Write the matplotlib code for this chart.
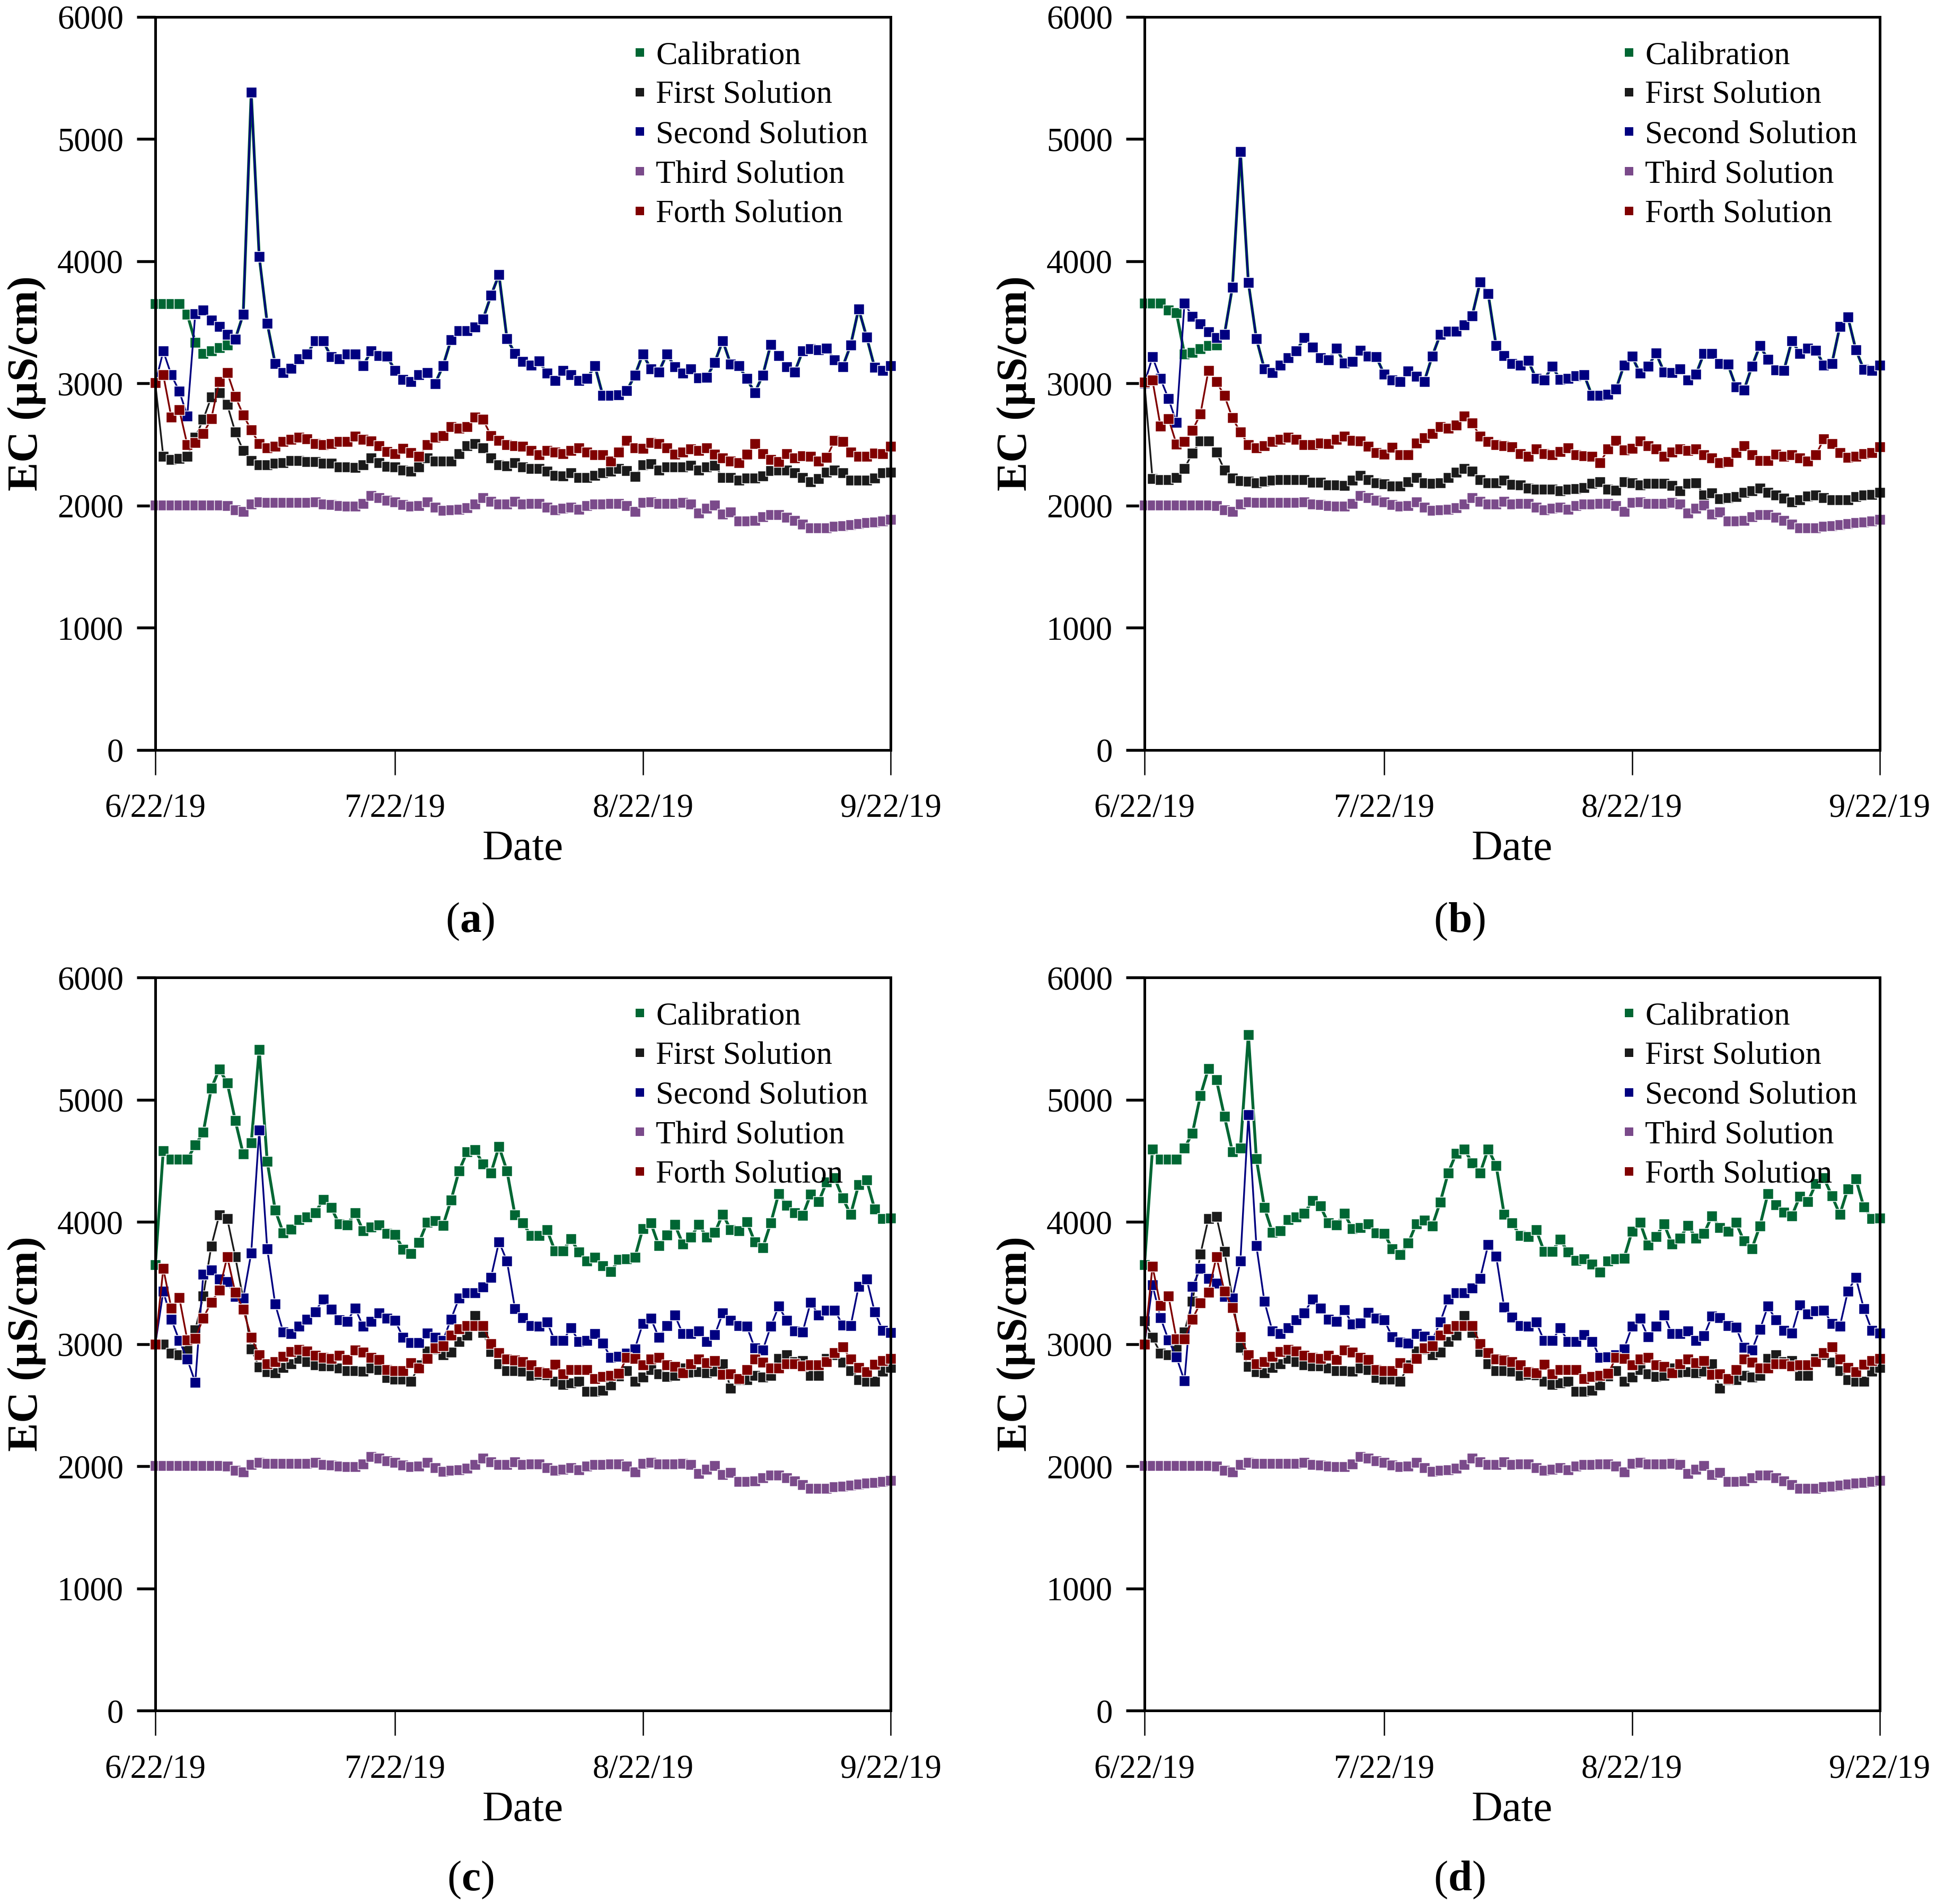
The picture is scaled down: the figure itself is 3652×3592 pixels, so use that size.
import pandas as pd
import matplotlib
matplotlib.use('Agg')
import matplotlib.pyplot as plt
from matplotlib.lines import Line2D

# daily readings, 6/22/19 .. 9/22/19
dates = pd.date_range('2019-06-22', '2019-09-22', freq='D')
tick_dates = pd.to_datetime(['2019-06-22', '2019-07-22', '2019-08-22', '2019-09-22'])
tick_labels = ['6/22/19', '7/22/19', '8/22/19', '9/22/19']
series_names = ['Calibration', 'First Solution', 'Second Solution', 'Third Solution', 'Forth Solution']
colors = ['#006633', '#1a1a1a', '#000080', '#7a4a8a', '#800000']
panel_labels = ['a', 'b', 'c', 'd']

# third solution is the same in all four panels
third = [2005, 2005, 2005, 2005, 2005, 2005, 2005, 2005, 2005, 2000, 1964, 1951, 2012, 2029, 2024, 2024,
         2024, 2024, 2024, 2024, 2029, 2012, 2007, 2000, 1995, 1995, 2019, 2080, 2066, 2044, 2029, 2007,
         1995, 2000, 2029, 1988, 1959, 1964, 1971, 1981, 2012, 2066, 2036, 2012, 2012, 2036, 2012, 2019,
         2019, 1988, 1964, 1976, 1988, 1968, 2000, 2012, 2012, 2019, 2019, 2000, 1951, 2024, 2029, 2019,
         2019, 2019, 2024, 2012, 1939, 1976, 2005, 1930, 1949, 1873, 1873, 1878, 1907, 1927, 1927, 1903,
         1878, 1849, 1818, 1818, 1818, 1830, 1835, 1842, 1854, 1861, 1866, 1873, 1885]

# ---- panel (a)
second_a = [3000, 3265, 3070, 2937, 2735, 3572, 3600, 3516, 3465, 3399, 3362, 3567, 5382, 4039, 3494, 3161,
            3088, 3124, 3200, 3241, 3348, 3348, 3217, 3200, 3241, 3241, 3144, 3265, 3229, 3221, 3107, 3034,
            3015, 3070, 3088, 2998, 3144, 3358, 3431, 3431, 3460, 3526, 3720, 3890, 3367, 3246, 3180, 3148,
            3185, 3083, 3022, 3107, 3070, 3022, 3039, 3144, 2900, 2900, 2905, 2942, 3066, 3241, 3119, 3095,
            3241, 3136, 3083, 3119, 3046, 3051, 3173, 3350, 3156, 3144, 3039, 2925, 3066, 3319, 3229, 3136,
            3095, 3265, 3282, 3277, 3290, 3192, 3136, 3314, 3611, 3380, 3131, 3107, 3144]
calib_a_start = [3652, 3652, 3652, 3652, 3567, 3338, 3245, 3265, 3294, 3314]
first_a = [3000, 2401, 2377, 2384, 2401, 2560, 2706, 2888, 2925, 2827, 2603, 2450, 2370, 2333, 2333, 2345,
           2353, 2370, 2370, 2360, 2360, 2348, 2345, 2316, 2316, 2311, 2333, 2389, 2353, 2321, 2316, 2292,
           2280, 2316, 2389, 2365, 2365, 2365, 2426, 2491, 2506, 2474, 2389, 2333, 2323, 2353, 2316, 2304,
           2304, 2280, 2248, 2243, 2268, 2231, 2231, 2248, 2268, 2280, 2304, 2287, 2238, 2333, 2341, 2292,
           2316, 2316, 2316, 2328, 2292, 2316, 2328, 2231, 2231, 2207, 2224, 2224, 2243, 2287, 2292, 2292,
           2268, 2231, 2195, 2219, 2273, 2292, 2268, 2207, 2207, 2207, 2224, 2268, 2273]
forth_a = [3005, 3070, 2725, 2786, 2499, 2516, 2591, 2710, 3017, 3090, 2895, 2742, 2620, 2506, 2474, 2487,
           2523, 2540, 2560, 2547, 2506, 2499, 2506, 2523, 2523, 2567, 2543, 2528, 2491, 2443, 2426, 2467,
           2433, 2401, 2499, 2560, 2572, 2645, 2633, 2645, 2725, 2706, 2572, 2535, 2499, 2491, 2487, 2450,
           2414, 2450, 2438, 2426, 2450, 2474, 2438, 2414, 2414, 2365, 2438, 2535, 2474, 2467, 2516, 2506,
           2474, 2421, 2438, 2462, 2450, 2474, 2421, 2389, 2365, 2353, 2421, 2506, 2426, 2377, 2360, 2426,
           2389, 2409, 2401, 2365, 2394, 2535, 2523, 2438, 2401, 2401, 2431, 2426, 2487]

# ---- panel (b)
second_b = [3000, 3217, 3039, 2876, 2681, 3655, 3550, 3489, 3423, 3375, 3399, 3788, 4900, 3825, 3367, 3119,
            3090, 3148, 3209, 3265, 3375, 3297, 3209, 3192, 3290, 3168, 3180, 3270, 3221, 3217, 3075, 3027,
            3015, 3100, 3058, 3015, 3224, 3399, 3428, 3428, 3479, 3555, 3830, 3735, 3309, 3229, 3163, 3151,
            3187, 3041, 3029, 3139, 3034, 3041, 3063, 3071, 2900, 2900, 2912, 2954, 3151, 3221, 3083, 3139,
            3248, 3095, 3090, 3119, 3027, 3075, 3246, 3246, 3161, 3156, 2973, 2944, 3139, 3309, 3197, 3112,
            3107, 3350, 3246, 3290, 3273, 3151, 3161, 3465, 3545, 3277, 3114, 3107, 3151]
calib_b_start = [3655, 3655, 3655, 3601, 3577, 3241, 3253, 3282, 3309, 3314]
first_b = [3000, 2219, 2212, 2212, 2231, 2304, 2431, 2528, 2528, 2438, 2292, 2224, 2202, 2200, 2187, 2200,
           2207, 2214, 2212, 2212, 2212, 2190, 2190, 2170, 2170, 2165, 2207, 2248, 2212, 2187, 2178, 2158,
           2158, 2195, 2231, 2187, 2183, 2187, 2231, 2273, 2304, 2280, 2214, 2187, 2187, 2207, 2175, 2170,
           2141, 2134, 2134, 2134, 2122, 2134, 2139, 2146, 2183, 2195, 2134, 2127, 2195, 2187, 2170, 2183,
           2183, 2183, 2165, 2122, 2183, 2187, 2085, 2102, 2056, 2066, 2073, 2110, 2122, 2141, 2110, 2085,
           2061, 2029, 2049, 2078, 2085, 2066, 2049, 2049, 2049, 2073, 2085, 2090, 2110]
forth_b = [3010, 3027, 2650, 2713, 2504, 2523, 2616, 2749, 3107, 3015, 2900, 2718, 2601, 2499, 2474, 2491,
           2523, 2543, 2560, 2540, 2499, 2499, 2511, 2506, 2540, 2567, 2535, 2530, 2487, 2433, 2421, 2477,
           2414, 2414, 2511, 2555, 2589, 2645, 2633, 2657, 2735, 2676, 2567, 2523, 2499, 2491, 2482, 2426,
           2401, 2462, 2426, 2414, 2443, 2474, 2414, 2409, 2401, 2353, 2462, 2535, 2457, 2470, 2528, 2491,
           2462, 2401, 2438, 2462, 2450, 2462, 2414, 2389, 2353, 2358, 2433, 2491, 2414, 2370, 2370, 2421,
           2401, 2414, 2389, 2365, 2414, 2547, 2506, 2433, 2394, 2401, 2426, 2433, 2482]

# ---- panel (c)
calib_c = [3647, 4584, 4511, 4511, 4511, 4628, 4732, 5092, 5248, 5139, 4830, 4555, 4645, 5411, 4494, 4097,
           3910, 3939, 4019, 4039, 4073, 4182, 4117, 3983, 3976, 4075, 3927, 3959, 3976, 3903, 3898, 3776,
           3740, 3832, 3995, 4007, 3971, 4178, 4416, 4572, 4591, 4474, 4401, 4616, 4418, 4056, 3990, 3886,
           3886, 3934, 3764, 3764, 3861, 3752, 3679, 3708, 3642, 3594, 3691, 3698, 3708, 3946, 3990, 3805,
           3893, 3978, 3820, 3873, 3978, 3873, 3912, 4063, 3934, 3927, 4002, 3837, 3788, 3990, 4231, 4136,
           4073, 4051, 4226, 4165, 4328, 4360, 4194, 4061, 4304, 4343, 4105, 4027, 4032]
first_c = [3000, 2998, 2925, 2912, 2961, 3114, 3394, 3800, 4056, 4027, 3715, 3367, 2961, 2810, 2774, 2766,
           2808, 2839, 2881, 2856, 2827, 2820, 2820, 2803, 2783, 2783, 2779, 2803, 2791, 2725, 2710, 2710,
           2693, 2830, 2942, 2961, 2912, 2932, 3022, 3071, 3234, 3095, 2937, 2839, 2783, 2783, 2779, 2742,
           2750, 2745, 2693, 2669, 2681, 2693, 2613, 2613, 2620, 2662, 2740, 2783, 2693, 2730, 2790, 2754,
           2735, 2742, 2803, 2770, 2771, 2766, 2776, 2839, 2640, 2706, 2706, 2742, 2730, 2742, 2881, 2912,
           2856, 2864, 2742, 2742, 2881, 2912, 2850, 2783, 2706, 2693, 2693, 2779, 2808]
second_c = [3000, 3431, 3204, 3029, 2876, 2686, 3569, 3606, 3533, 3509, 3387, 3375, 3745, 4749, 3781, 3326,
            3100, 3083, 3144, 3204, 3265, 3367, 3285, 3197, 3185, 3294, 3144, 3185, 3253, 3209, 3192, 3054,
            3010, 3010, 3088, 3054, 3030, 3204, 3375, 3418, 3418, 3465, 3545, 3837, 3679, 3290, 3217, 3151,
            3144, 3180, 3027, 3027, 3131, 3022, 3027, 3083, 3005, 2888, 2900, 2925, 2961, 3168, 3209, 3054,
            3151, 3236, 3083, 3083, 3107, 3022, 3075, 3253, 3192, 3148, 3144, 2968, 2949, 3144, 3309, 3192,
            3107, 3100, 3343, 3236, 3277, 3277, 3156, 3148, 3472, 3533, 3265, 3112, 3095]
forth_c = [2998, 3618, 3294, 3380, 3034, 3046, 3212, 3343, 3440, 3715, 3423, 3285, 3054, 2912, 2839, 2856,
           2900, 2937, 2956, 2944, 2905, 2888, 2881, 2905, 2871, 2949, 2932, 2888, 2871, 2791, 2783, 2783,
           2847, 2803, 2881, 2968, 2985, 3071, 3124, 3148, 3151, 3148, 3002, 2929, 2876, 2869, 2856, 2827,
           2774, 2766, 2832, 2754, 2791, 2791, 2791, 2718, 2735, 2742, 2759, 2888, 2881, 2827, 2876, 2888,
           2827, 2815, 2766, 2839, 2876, 2847, 2864, 2749, 2754, 2718, 2791, 2876, 2852, 2803, 2803, 2839,
           2839, 2820, 2827, 2827, 2856, 2929, 2978, 2876, 2808, 2771, 2832, 2864, 2881]

# ---- panel (d)
calib_d = [3647, 4596, 4511, 4511, 4511, 4603, 4727, 5034, 5255, 5163, 4864, 4574, 4603, 5533, 4516, 4117,
           3915, 3927, 4019, 4039, 4068, 4173, 4129, 3990, 3976, 4068, 3946, 3951, 3983, 3910, 3903, 3781,
           3732, 3825, 3983, 4012, 3966, 4161, 4401, 4560, 4596, 4482, 4401, 4596, 4462, 4063, 3990, 3886,
           3881, 3934, 3759, 3759, 3856, 3752, 3684, 3698, 3655, 3589, 3679, 3696, 3703, 3922, 3995, 3808,
           3881, 3983, 3820, 3866, 3971, 3866, 3903, 4049, 3954, 3922, 3995, 3844, 3781, 3966, 4231, 4141,
           4080, 4049, 4209, 4165, 4311, 4360, 4214, 4061, 4270, 4353, 4122, 4027, 4032]
first_d = [3190, 3054, 2925, 2912, 2961, 3100, 3350, 3735, 4027, 4044, 3757, 3375, 2973, 2815, 2774, 2766,
           2808, 2839, 2881, 2856, 2827, 2820, 2820, 2803, 2783, 2783, 2779, 2803, 2791, 2725, 2710, 2710,
           2693, 2830, 2942, 2961, 2912, 2932, 3022, 3071, 3234, 3095, 2937, 2839, 2783, 2783, 2779, 2742,
           2750, 2745, 2693, 2669, 2681, 2693, 2613, 2613, 2620, 2662, 2740, 2783, 2693, 2730, 2790, 2754,
           2735, 2742, 2803, 2770, 2771, 2766, 2776, 2839, 2640, 2706, 2706, 2742, 2730, 2742, 2881, 2912,
           2856, 2864, 2742, 2742, 2881, 2912, 2850, 2783, 2706, 2693, 2693, 2779, 2808]
second_d = [3000, 3484, 3216, 3034, 2893, 2698, 3472, 3618, 3538, 3496, 3390, 3375, 3679, 4878, 3805, 3350,
            3107, 3083, 3131, 3197, 3253, 3367, 3294, 3204, 3185, 3282, 3161, 3173, 3260, 3209, 3197, 3058,
            3017, 3005, 3083, 3063, 3030, 3180, 3367, 3418, 3418, 3460, 3538, 3813, 3720, 3302, 3221, 3151,
            3144, 3180, 3027, 3027, 3131, 3022, 3022, 3075, 3022, 2888, 2893, 2912, 2961, 3144, 3212, 3058,
            3144, 3236, 3083, 3083, 3107, 3027, 3066, 3229, 3217, 3148, 3139, 2973, 2949, 3119, 3309, 3197,
            3112, 3090, 3319, 3246, 3273, 3277, 3168, 3144, 3431, 3545, 3290, 3112, 3090]
forth_d = [2998, 3637, 3314, 3394, 3041, 3041, 3204, 3338, 3423, 3715, 3431, 3297, 3058, 2912, 2839, 2856,
           2900, 2937, 2956, 2944, 2905, 2888, 2881, 2905, 2871, 2949, 2932, 2888, 2871, 2791, 2783, 2783,
           2847, 2803, 2881, 2968, 2985, 3071, 3124, 3148, 3151, 3148, 3002, 2929, 2876, 2869, 2856, 2827,
           2774, 2766, 2832, 2754, 2791, 2791, 2791, 2718, 2735, 2742, 2759, 2888, 2881, 2827, 2876, 2888,
           2827, 2815, 2766, 2839, 2876, 2847, 2864, 2749, 2754, 2718, 2791, 2876, 2852, 2803, 2803, 2839,
           2839, 2820, 2827, 2827, 2856, 2929, 2978, 2876, 2808, 2771, 2832, 2864, 2881]

# in (a) and (b) the calibration run sits under the second solution from day 10 on
calib_a = calib_a_start + second_a[10:]
calib_b = calib_b_start + second_b[10:]

panels = [
    [calib_a, first_a, second_a, third, forth_a],
    [calib_b, first_b, second_b, third, forth_b],
    [calib_c, first_c, second_c, third, forth_c],
    [calib_d, first_d, second_d, third, forth_d],
]

plt.rcParams['font.family'] = ['Liberation Serif', 'DejaVu Serif']
plt.rcParams['mathtext.fontset'] = 'custom'
plt.rcParams['mathtext.rm'] = 'Liberation Serif'
plt.rcParams['mathtext.bf'] = 'Liberation Serif:bold'

fig = plt.figure(figsize=(3653 / 300, 3592 / 300), dpi=300)

positions = [[0.0802, 0.6061, 0.3797, 0.3850],
             [0.5910, 0.6061, 0.3797, 0.3850],
             [0.0802, 0.1016, 0.3797, 0.3850],
             [0.5910, 0.1016, 0.3797, 0.3850]]
letter_xy = [(0.2428, 0.5160), (0.7536, 0.5160), (0.2428, 0.0125), (0.7536, 0.0125)]
line_w = [1.3, 0.8, 0.8, 0.8, 0.8]

for k in range(4):
    ax = fig.add_axes(positions[k])
    for vals, name, c, lw in zip(panels[k], series_names, colors, line_w):
        ax.plot(dates, vals, color=c, lw=lw, marker='s', ms=4.6,
                mec='white', mew=0.35, label=name, clip_on=False)

    ax.set_xlim(dates[0], dates[-1])
    ax.set_ylim(0, 6000)
    ax.set_yticks(range(0, 6001, 1000))
    ax.set_xticks(tick_dates)
    ax.set_xticklabels(tick_labels)
    ax.tick_params(axis='y', direction='out', length=8.4, width=1.3, pad=6, labelsize=15)
    ax.tick_params(axis='x', direction='out', length=11.3, width=0.6, pad=8.4, labelsize=15)
    for sp in ax.spines.values():
        sp.set_linewidth(1.2)

    ax.set_ylabel('EC (µS/cm)', fontsize=19.5, fontweight='bold')
    ax.yaxis.set_label_coords(-0.174, 0.5)
    ax.yaxis.label.set_va('center')
    ax.set_xlabel('Date', fontsize=19.5)
    ax.xaxis.set_label_coords(0.5, -0.136)
    ax.xaxis.label.set_va('center')

    handles = [Line2D([], [], marker='s', ls='none', color=c, ms=3.8, mec='none') for c in colors]
    ax.legend(handles, series_names, loc='upper left', bbox_to_anchor=(0.6502, 0.967),
              frameon=False, fontsize=14.6, borderpad=0, borderaxespad=0,
              handlelength=0.4, handletextpad=0.30, labelspacing=0.315)

    fig.text(letter_xy[k][0], letter_xy[k][1], '($\\mathbf{%s}$)' % panel_labels[k],
             ha='center', va='center', fontsize=19.5)

fig.savefig('out.png', dpi=300)
